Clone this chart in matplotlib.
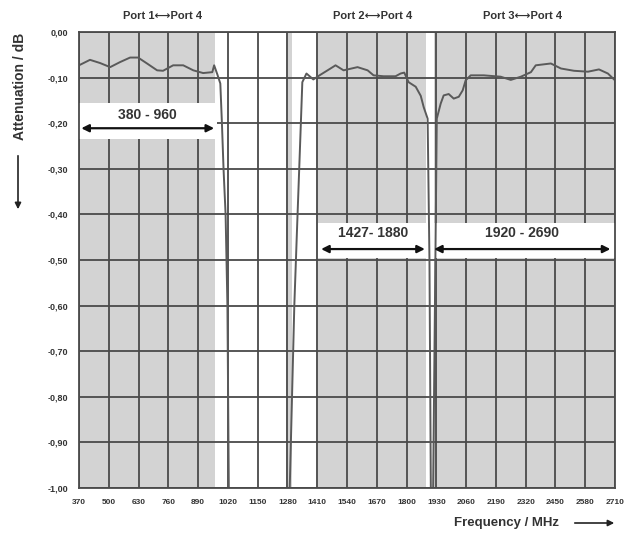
import matplotlib
matplotlib.use('Agg')
import matplotlib.pyplot as plt
from matplotlib.patches import Rectangle, FancyArrowPatch

# ---- data ----
# Port 1 <-> Port 4 curve (MHz, dB)
port1_freq = [370, 418, 462, 506, 549, 593, 628, 667, 711, 737, 781, 825, 869, 912,
              952, 960, 974, 987, 994, 1001, 1010, 1018, 1024]
port1_att = [-0.073, -0.061, -0.068, -0.077, -0.066, -0.056, -0.056, -0.069, -0.084, -0.085,
             -0.073, -0.073, -0.084, -0.090, -0.088, -0.073, -0.093, -0.113, -0.20, -0.30,
             -0.40, -0.60, -1.00]

# Port 2 <-> Port 4 curve
port2_freq = [1290, 1310, 1322, 1335, 1345, 1363, 1393, 1420, 1468, 1490, 1525, 1586, 1630,
              1656, 1700, 1752, 1774, 1790, 1809, 1840, 1862, 1875, 1892, 1900, 1906]
port2_att = [-1.00, -0.60, -0.43, -0.25, -0.11, -0.091, -0.104, -0.095, -0.080, -0.073,
             -0.084, -0.077, -0.084, -0.095, -0.097, -0.097, -0.091, -0.089, -0.110, -0.120,
             -0.140, -0.165, -0.190, -0.50, -1.00]

# Port 3 <-> Port 4 curve
port3_freq = [1916, 1932, 1949, 1962, 1984, 2006, 2028, 2045, 2058, 2080, 2137, 2211, 2255,
              2299, 2343, 2364, 2430, 2474, 2531, 2592, 2640, 2679, 2710]
port3_att = [-1.00, -0.190, -0.157, -0.139, -0.136, -0.146, -0.142, -0.128, -0.106, -0.095,
             -0.095, -0.098, -0.105, -0.098, -0.088, -0.073, -0.069, -0.080, -0.085, -0.087,
             -0.082, -0.091, -0.106]

# pass bands (arrow start, arrow end, label)
band_start = [380, 1427, 1920]
band_end = [960, 1880, 2690]
band_labels = ['380 - 960', '1427- 1880', '1920 - 2690']

# grey shaded frequency ranges
shade_start = [370, 1275, 1405, 1920]
shade_end = [962, 1300, 1884, 2710]

# port titles
port_titles = ['Port 1\u27f7Port 4', 'Port 2\u27f7Port 4', 'Port 3\u27f7Port 4']
port_title_x = [737, 1652, 2308]

# ticks
x_ticks = list(range(370, 2711, 130))
y_ticks = [0.0, -0.1, -0.2, -0.3, -0.4, -0.5, -0.6, -0.7, -0.8, -0.9, -1.0]
y_ticklabels = ['0,00', '-0,10', '-0,20', '-0,30', '-0,40', '-0,50', '-0,60', '-0,70',
                '-0,80', '-0,90', '-1,00']

# ---- figure ----
font = ['Liberation Sans', 'DejaVu Sans']
plt.rcParams['font.family'] = font
txt_col = '#333333'
grid_col = '#4a4a4a'

fig = plt.figure(figsize=(6.35, 5.4), dpi=100)
ax = fig.add_axes([0.1244, 0.0963, 0.8441, 0.8444])
ax.set_xlim(370, 2710)
ax.set_ylim(-1.0, 0.0)

# grey shading
for s, e in zip(shade_start, shade_end):
    ax.axvspan(s, e, color='#d3d3d3', lw=0, zorder=1)

# grid lines drawn above the shading
for xv in x_ticks:
    ax.axvline(xv, color=grid_col, lw=1.3, zorder=1.5)
for yv in y_ticks:
    ax.axhline(yv, color=grid_col, lw=1.3, zorder=1.5)

# curves
for f, a in [(port1_freq, port1_att), (port2_freq, port2_att), (port3_freq, port3_att)]:
    ax.plot(f, a, color='#5a5a5a', lw=1.4, zorder=3)

# white label boxes with band arrows
box_y = [(-0.235, -0.155), (-0.495, -0.418), (-0.495, -0.418)]
arrow_y = [-0.211, -0.476, -0.476]
text_y = [-0.183, -0.441, -0.441]
box_x = [(372, 972), (1415, 1892), (1914, 2710)]
for i in range(3):
    (x0, x1), (y0, y1) = box_x[i], box_y[i]
    ax.add_patch(Rectangle((x0, y0), x1 - x0, y1 - y0, facecolor='white',
                           edgecolor='none', zorder=2))
    ax.annotate('', xy=(band_end[i], arrow_y[i]), xytext=(band_start[i], arrow_y[i]),
                arrowprops=dict(arrowstyle='<|-|>', color='#111111', lw=1.6,
                                mutation_scale=11, shrinkA=0, shrinkB=0), zorder=4)
    ax.text((band_start[i] + band_end[i]) / 2, text_y[i], band_labels[i], ha='center',
            va='center', fontsize=10, fontweight='bold', color=txt_col, zorder=4)

# port titles above the plot
for t, xv in zip(port_titles, port_title_x):
    ax.text(xv, 0.035, t, ha='center', va='center', fontsize=8, fontweight='bold',
            color=txt_col, family=font)

# ticks
ax.set_xticks(x_ticks)
ax.set_xticklabels([str(v) for v in x_ticks], fontsize=6, fontweight='bold', color=txt_col)
ax.set_yticks(y_ticks)
ax.set_yticklabels(y_ticklabels, fontsize=6.5, fontweight='bold', color=txt_col)
ax.tick_params(axis='both', length=0)
ax.tick_params(axis='x', pad=8)
ax.tick_params(axis='y', pad=8)
for sp in ax.spines.values():
    sp.set_color(grid_col)
    sp.set_linewidth(1.3)
    sp.set_zorder(5)

# axis titles with arrows
fig.text(20 / 635, 1 - 86 / 540, 'Attenuation / dB', rotation=90, ha='center', va='center',
         fontsize=10, fontweight='bold', color=txt_col)
fig.add_artist(FancyArrowPatch((18 / 635, 1 - 153 / 540), (18 / 635, 1 - 212 / 540),
               transform=fig.transFigure, arrowstyle='-|>', mutation_scale=9, color='#222222', lw=1.2))
fig.text(507 / 635, 1 - 523 / 540, 'Frequency / MHz', ha='center', va='center',
         fontsize=9.5, fontweight='bold', color=txt_col)
fig.add_artist(FancyArrowPatch((572 / 635, 1 - 523 / 540), (617 / 635, 1 - 523 / 540),
               transform=fig.transFigure, arrowstyle='-|>', mutation_scale=9, color='#222222', lw=1.2))

plt.savefig('out.png', dpi=100)
